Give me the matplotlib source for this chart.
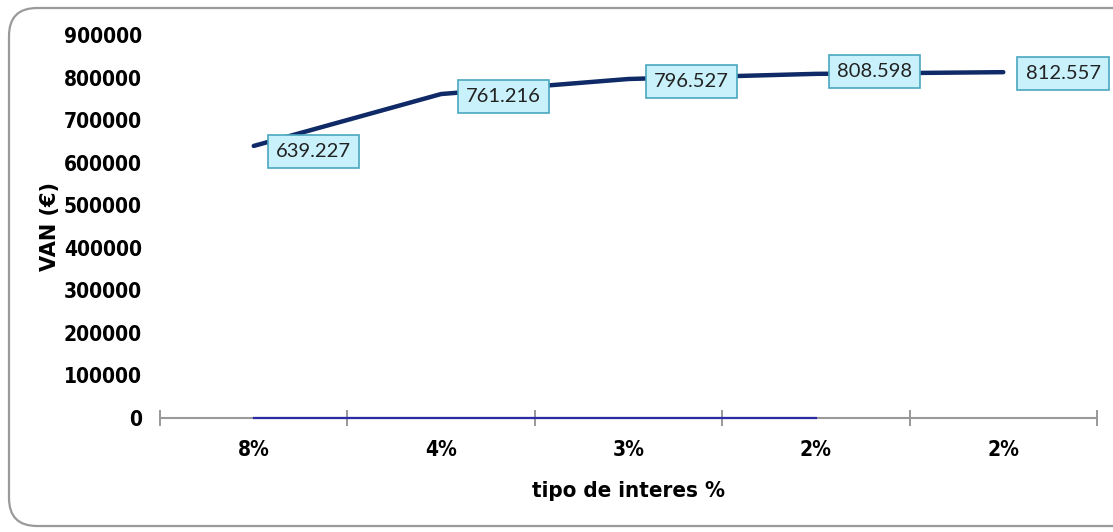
import numpy as np
import matplotlib.pyplot as plt
from matplotlib.patches import FancyBboxPatch

categorias = ['8%', '4%', '3%', '2%', '2%']
van = [639227, 761216, 796527, 808598, 812557]
etiquetas = ['639.227', '761.216', '796.527', '808.598', '812.557']
serie2 = [0, 0, 0, 0]  # segunda serie (linea azul sobre el eje)

cond = dict(family='DejaVu Sans', fontstretch='condensed', fontweight='bold')

fig = plt.figure(figsize=(11.13, 5.32), dpi=100)

# marco redondeado (en pixeles)
bg = fig.add_axes([0, 0, 1, 1], zorder=-1)
bg.set_xlim(0, 1113)
bg.set_ylim(0, 532)
bg.axis('off')
bg.add_patch(FancyBboxPatch((9, 6), 1200, 518, boxstyle='round,pad=0,rounding_size=28',
                            fill=False, edgecolor='#9a9a9a', lw=1.6))

ax = fig.add_axes([0.1438, 0.2143, 0.8418, 0.72])
ax.patch.set_alpha(0)

x = np.arange(len(categorias))
ax.plot(x, van, color='#0f2a66', lw=3.2, solid_capstyle='round', zorder=3)
ax.plot(x[:len(serie2)], serie2, color='#2b2ba8', lw=1.6, zorder=4, clip_on=False)

offs = [(43, -4), (45, -2), (45, -2), (42, 2), (43, -1)]
for i, (v, t) in enumerate(zip(van, etiquetas)):
    ax.annotate(t, (x[i], v), xytext=offs[i], textcoords='offset points',
                ha='center', va='center', fontsize=14.5, family=['Lato', 'DejaVu Sans'], color='#222222',
                bbox=dict(boxstyle='square,pad=0.4', fc='#c9f1fb', ec='#4aa7bf', lw=1.2), zorder=5)

ax.set_xlim(-0.5, len(categorias) - 0.5)
ax.set_ylim(0, 900000)
ax.set_yticks(np.arange(0, 900001, 100000))
ax.set_yticklabels([str(v) for v in range(0, 900001, 100000)], fontsize=15, **cond)
ax.tick_params(axis='y', length=0, pad=13)

ax.set_xticks(x)
ax.set_xticklabels(categorias, fontsize=15, **cond)
ax.set_xticks(np.arange(-0.5, len(categorias), 1), minor=True)
ax.tick_params(axis='x', which='major', length=0, pad=16)
ax.tick_params(axis='x', which='minor', direction='inout', length=12, color='#888888', width=1.2)

for s in ['top', 'right', 'left']:
    ax.spines[s].set_visible(False)
ax.spines['bottom'].set_color('#999999')
ax.spines['bottom'].set_linewidth(1.5)

ax.set_xlabel('tipo de interes %', fontsize=16, labelpad=15, **cond)
ax.set_ylabel('VAN (€)', fontsize=15, fontweight='heavy', family='DejaVu Sans', labelpad=3)

fig.savefig('out.png', dpi=100)
